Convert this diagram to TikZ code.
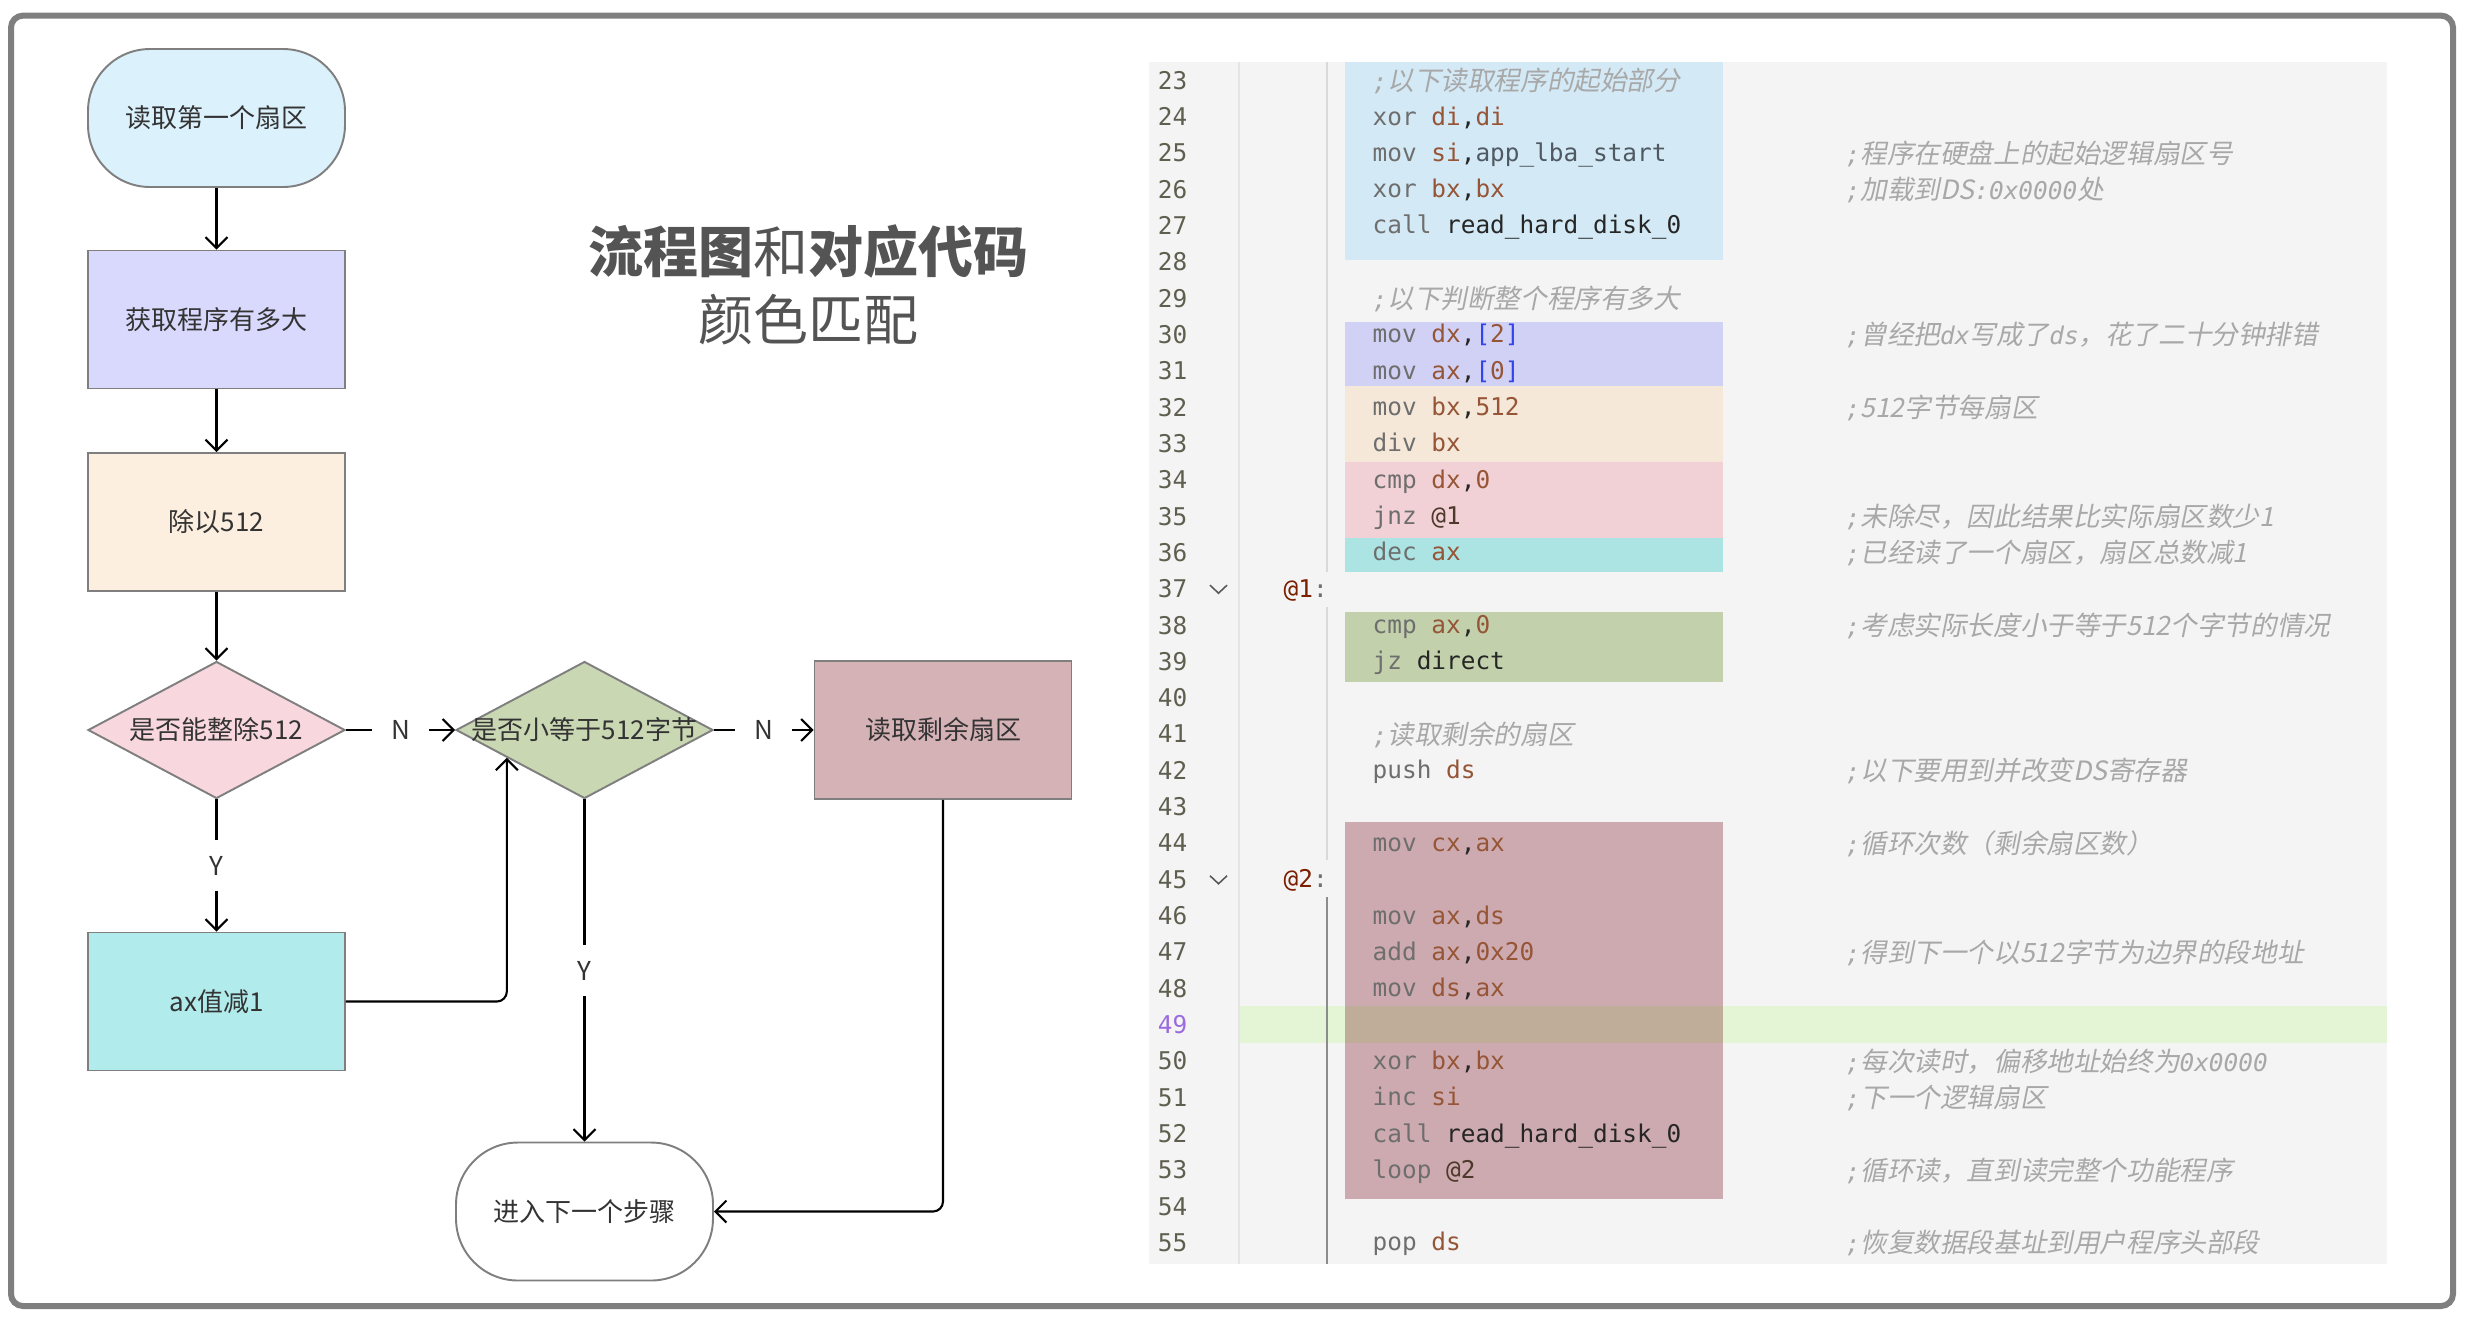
\documentclass[tikz,border=0pt]{standalone}
\usepackage{fontspec}
\setmainfont{Noto Sans CJK SC}
\setmonofont{DejaVu Sans Mono}
\newfontfamily\cmtfont{Noto Sans CJK SC}[FakeSlant=0.2]
\usetikzlibrary{shapes.geometric,arrows.meta,calc}

% Colours of the flowchart and of the code blocks
\definecolor{framec}{HTML}{7F7F7F}
\definecolor{startc}{HTML}{DBF1FC}
\definecolor{sizec}{HTML}{D9D9FD}
\definecolor{divc}{HTML}{FDEFE0}
\definecolor{testc}{HTML}{F8D8DE}
\definecolor{smallc}{HTML}{C9D7B3}
\definecolor{restc}{HTML}{D4B2B6}
\definecolor{decc}{HTML}{B2EBEB}
\definecolor{panelc}{HTML}{F4F4F4}
\definecolor{blka}{HTML}{D3E9F5}
\definecolor{blkb}{HTML}{D1D1F5}
\definecolor{blkc}{HTML}{F5E8D8}
\definecolor{blkd}{HTML}{F2D1D6}
\definecolor{blke}{HTML}{ACE4E4}
\definecolor{blkf}{HTML}{C2D1AB}
\definecolor{blkg}{HTML}{CDAAAF}
\definecolor{bandc}{HTML}{E3F5D5}
\definecolor{mixc}{HTML}{BFAD99}
\definecolor{opc}{HTML}{6E6E6E}
\definecolor{regc}{HTML}{955536}
\definecolor{idc}{HTML}{4F5962}
\definecolor{brc}{HTML}{3344EE}
\definecolor{lblc}{HTML}{7A1F00}
\definecolor{atc}{HTML}{4D3A2A}
\definecolor{cmtc}{HTML}{A8A8A8}
\definecolor{numc}{HTML}{5F5F50}
\definecolor{curc}{HTML}{9A6ADE}

\newcommand\asmop[1]{\textcolor{opc}{#1}}
\newcommand\asmreg[1]{\textcolor{regc}{#1}}
\newcommand\asmid[1]{\textcolor{idc}{#1}}
\newcommand\asmbr[1]{\textcolor{brc}{#1}}
\newcommand\asmat[1]{\textcolor{atc}{#1}}
\newcommand\cmono[1]{{\ttfamily\itshape\fontsize{2.44mm}{3mm}\selectfont #1}}

\tikzset{
  box/.style={draw=framec, line width=0.55pt, minimum width=25.7mm, minimum height=13.8mm,
    text=black!80, font=\fontsize{2.6mm}{3.2mm}\selectfont},
  terminal/.style={box, rounded corners=6.2mm},
  decision/.style={box, diamond, inner sep=0pt, minimum width=25.7mm, minimum height=13.7mm},
  txt/.style={text=black!80, font=\fontsize{2.6mm}{3.2mm}\selectfont},
  arr/.style={-{Straight Barb[length=1.1mm,width=2.2mm]}, line width=0.6pt},
  lab/.style={fill=white, inner xsep=1.9mm, inner ysep=1.6mm, text=black!80,
    font=\fontsize{2.6mm}{3.2mm}\selectfont},
  code/.style={anchor=west, inner sep=0pt, text=black!85, text height=2mm, text depth=0.4mm,
    font=\ttfamily\fontsize{2.44mm}{3mm}\selectfont},
  cmt/.style={anchor=west, inner sep=0pt, text=cmtc, text height=2.3mm, text depth=0.3mm,
    font=\cmtfont\fontsize{2.66mm}{3.1mm}\selectfont},
  lnum/.style={anchor=east, inner sep=0pt, text=numc, text height=2mm, text depth=0.3mm,
    font=\ttfamily\fontsize{2.44mm}{3mm}\selectfont}
}

\begin{document}
\begin{tikzpicture}[x=0.1mm, y=-0.1mm, declare function={rowy(\n)=80.7+(\n-23)*36.32;}]
    \useasboundingbox (0,0) rectangle (2469,1323);

    % Draw the flowchart
    \node[terminal, fill=startc] (start) at (216.5,118) {读取第一个扇区};
    \node[box, fill=sizec] (size) at (216.5,319.5) {获取程序有多大};
    \node[box, fill=divc] (div) at (216.5,522) {除以512};
    \node[decision, fill=testc] (d1) at (216.5,730) {};
    \node[txt] (d1t) at (d1) {是否能整除512};
    \node[decision, fill=smallc] (d2) at (584.5,730) {};
    \node[txt] (d2t) at (d2) {是否小等于512字节};
    \node[box, fill=restc] (rest) at (943,730) {读取剩余扇区};
    \node[box, fill=decc] (dec) at (216.5,1001.5) {ax值减1};
    \node[terminal, fill=white] (end) at (584.5,1211.5) {进入下一个步骤};

    % Draw the connectors
    \draw[arr] (start) -- (size);
    \draw[arr] (size) -- (div);
    \draw[arr] (div) -- (d1);
    \draw[arr] (d1) -- node[lab] (n1) {N} (d2);
    \draw[arr] (d2) -- node[lab] (n2) {N} (rest);
    \draw[arr] (d1) -- node[lab] (y1) {Y} (dec);
    \draw[arr] (d2) -- node[lab] (y2) {Y} (end);
    \draw[arr, rounded corners=1mm] (dec.east) -| ($(d2.west)!0.4!(d2.south)$);
    \draw[arr, rounded corners=1mm] (rest.south) |- (end.east);

    % Place the title
    \node[text=black!67, font=\fontsize{5.5mm}{6.5mm}\selectfont] (title) at (808,251)
        {\textbf{流程图}和\textbf{对应代码}};
    \node[text=black!67, font=\fontsize{5.5mm}{6.5mm}\selectfont] (subtitle) at (808,320) {颜色匹配};

    % Draw the code panel
    \fill[panelc] (1149,62) rectangle (2387,1264);
    \fill[blka] (1345,62) rectangle (1723,260);
    \fill[blkb] (1345,322) rectangle (1723,386);
    \fill[blkc] (1345,386) rectangle (1723,462);
    \fill[blkd] (1345,462) rectangle (1723,538);
    \fill[blke] (1345,538) rectangle (1723,572);
    \fill[blkf] (1345,612) rectangle (1723,682);
    \fill[blkg] (1345,822) rectangle (1723,1199);
    \fill[bandc] (1239,1006) rectangle (2387,1043);
    \fill[mixc] (1345,1006) rectangle (1723,1043);
    \draw[black!10, line width=0.4pt] (1239,62) -- (1239,1264);
    \draw[black!15, line width=0.4pt] (1327,62) -- (1327,572);
    \draw[black!15, line width=0.4pt] (1327,607) -- (1327,860);
    \draw[black!45, line width=0.4pt] (1327,897) -- (1327,1264);

    % Line numbers and fold marks
    \foreach \n in {23,...,48,50,51,...,55}
        \node[lnum] (ln\n) at (1188,{rowy(\n)}) {\n};
    \node[lnum, text=curc] (ln49) at (1188,{rowy(49)}) {49};
    \draw[black!65, line width=0.45pt] (1210,{rowy(37)-4}) -- ++(8.5,8) -- ++(8.5,-8);
    \draw[black!65, line width=0.45pt] (1210,{rowy(45)-4}) -- ++(8.5,8) -- ++(8.5,-8);

    % Code lines
    \node[cmt] (l23) at (1372,{rowy(23)}) {\cmono{;}以下读取程序的起始部分};
    \node[code] (l24) at (1372,{rowy(24)}) {\asmop{xor} \asmreg{di},\asmreg{di}};
    \node[code] (l25) at (1372,{rowy(25)}) {\asmop{mov} \asmreg{si},\asmid{app\_lba\_start}};
    \node[code] (l26) at (1372,{rowy(26)}) {\asmop{xor} \asmreg{bx},\asmreg{bx}};
    \node[code] (l27) at (1372,{rowy(27)}) {\asmop{call} read\_hard\_disk\_0};
    \node[cmt] (l29) at (1372,{rowy(29)}) {\cmono{;}以下判断整个程序有多大};
    \node[code] (l30) at (1372,{rowy(30)}) {\asmop{mov} \asmreg{dx},\asmbr{[}\asmreg{2}\asmbr{]}};
    \node[code] (l31) at (1372,{rowy(31)}) {\asmop{mov} \asmreg{ax},\asmbr{[}\asmreg{0}\asmbr{]}};
    \node[code] (l32) at (1372,{rowy(32)}) {\asmop{mov} \asmreg{bx},\asmreg{512}};
    \node[code] (l33) at (1372,{rowy(33)}) {\asmop{div} \asmreg{bx}};
    \node[code] (l34) at (1372,{rowy(34)}) {\asmop{cmp} \asmreg{dx},\asmreg{0}};
    \node[code] (l35) at (1372,{rowy(35)}) {\asmop{jnz} \asmat{@1}};
    \node[code] (l36) at (1372,{rowy(36)}) {\asmop{dec} \asmreg{ax}};
    \node[code] (l37) at (1283,{rowy(37)}) {\textcolor{lblc}{@1}\asmop{:}};
    \node[code] (l38) at (1372,{rowy(38)}) {\asmop{cmp} \asmreg{ax},\asmreg{0}};
    \node[code] (l39) at (1372,{rowy(39)}) {\asmop{jz} direct};
    \node[cmt] (l41) at (1372,{rowy(41)}) {\cmono{;}读取剩余的扇区};
    \node[code] (l42) at (1372,{rowy(42)}) {\asmop{push} \asmreg{ds}};
    \node[code] (l44) at (1372,{rowy(44)}) {\asmop{mov} \asmreg{cx},\asmreg{ax}};
    \node[code] (l45) at (1283,{rowy(45)}) {\textcolor{lblc}{@2}\asmop{:}};
    \node[code] (l46) at (1372,{rowy(46)}) {\asmop{mov} \asmreg{ax},\asmreg{ds}};
    \node[code] (l47) at (1372,{rowy(47)}) {\asmop{add} \asmreg{ax},\asmreg{0x20}};
    \node[code] (l48) at (1372,{rowy(48)}) {\asmop{mov} \asmreg{ds},\asmreg{ax}};
    \node[code] (l50) at (1372,{rowy(50)}) {\asmop{xor} \asmreg{bx},\asmreg{bx}};
    \node[code] (l51) at (1372,{rowy(51)}) {\asmop{inc} \asmreg{si}};
    \node[code] (l52) at (1372,{rowy(52)}) {\asmop{call} read\_hard\_disk\_0};
    \node[code] (l53) at (1372,{rowy(53)}) {\asmop{loop} \asmat{@2}};
    \node[code] (l55) at (1372,{rowy(55)}) {\asmop{pop} \asmreg{ds}};

    % Comments at the end of the lines
    \node[cmt] (c25) at (1845,{rowy(25)}) {\cmono{;}程序在硬盘上的起始逻辑扇区号};
    \node[cmt] (c26) at (1845,{rowy(26)}) {\cmono{;}加载到DS\cmono{:0x0000}处};
    \node[cmt] (c30) at (1845,{rowy(30)}) {\cmono{;}曾经把\cmono{dx}写成了\cmono{ds}，花了二十分钟排错};
    \node[cmt] (c32) at (1845,{rowy(32)}) {\cmono{;}512字节每扇区};
    \node[cmt] (c35) at (1845,{rowy(35)}) {\cmono{;}未除尽，因此结果比实际扇区数少1};
    \node[cmt] (c36) at (1845,{rowy(36)}) {\cmono{;}已经读了一个扇区，扇区总数减1};
    \node[cmt] (c38) at (1845,{rowy(38)}) {\cmono{;}考虑实际长度小于等于512个字节的情况};
    \node[cmt] (c42) at (1845,{rowy(42)}) {\cmono{;}以下要用到并改变DS寄存器};
    \node[cmt] (c44) at (1845,{rowy(44)}) {\cmono{;}循环次数（剩余扇区数）};
    \node[cmt] (c47) at (1845,{rowy(47)}) {\cmono{;}得到下一个以512字节为边界的段地址};
    \node[cmt] (c50) at (1845,{rowy(50)}) {\cmono{;}每次读时，偏移地址始终为\cmono{0x0000}};
    \node[cmt] (c51) at (1845,{rowy(51)}) {\cmono{;}下一个逻辑扇区};
    \node[cmt] (c53) at (1845,{rowy(53)}) {\cmono{;}循环读，直到读完整个功能程序};
    \node[cmt] (c55) at (1845,{rowy(55)}) {\cmono{;}恢复数据段基址到用户程序头部段};

    % Draw the outer frame
    \draw[framec, line width=0.6mm, rounded corners=1.2mm] (11,15.6) rectangle (2453,1306);
\end{tikzpicture}
\end{document}
